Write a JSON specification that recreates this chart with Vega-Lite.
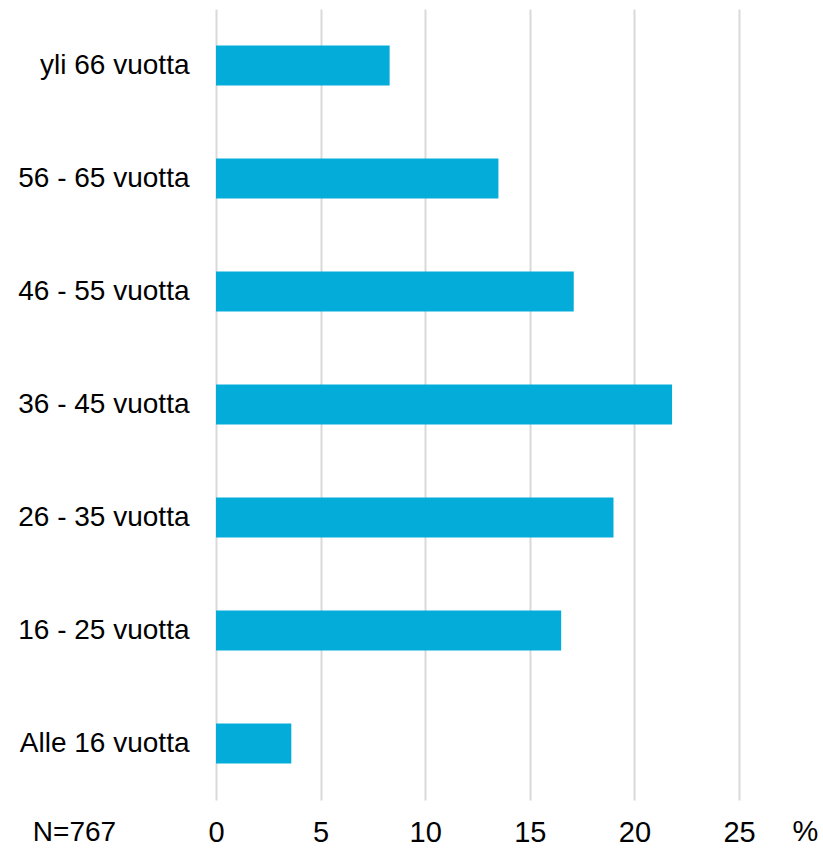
{
  "$schema": "https://vega.github.io/schema/vega-lite/v6.json",
  "width": 523,
  "height": 791,
  "autosize": {"type": "none"},
  "padding": {"left": 216, "top": 9, "right": 84, "bottom": 48},
  "background": "white",
  "data": {
    "values": [
      {"ika": "yli 66 vuotta", "osuus": 8.3},
      {"ika": "56 - 65 vuotta", "osuus": 13.5},
      {"ika": "46 - 55 vuotta", "osuus": 17.1},
      {"ika": "36 - 45 vuotta", "osuus": 21.8},
      {"ika": "26 - 35 vuotta", "osuus": 19.0},
      {"ika": "16 - 25 vuotta", "osuus": 16.5},
      {"ika": "Alle 16 vuotta", "osuus": 3.6}
    ]
  },
  "config": {
    "view": {"stroke": null},
    "font": "Liberation Sans"
  },
  "mark": {"type": "bar", "color": "#04ACDA"},
  "encoding": {
    "y": {
      "field": "ika",
      "type": "nominal",
      "sort": null,
      "scale": {"paddingInner": 0.646, "paddingOuter": 0.323},
      "axis": {
        "title": "N=767",
        "titleAngle": 0,
        "titleX": -142,
        "titleY": 831,
        "titleAlign": "center",
        "titleBaseline": "alphabetic",
        "titleFontSize": 28,
        "titleFontWeight": "normal",
        "titleColor": "#000000",
        "domain": false,
        "ticks": false,
        "labelPadding": 27,
        "labelFontSize": 28,
        "labelColor": "#000000",
        "grid": false
      }
    },
    "x": {
      "field": "osuus",
      "type": "quantitative",
      "scale": {"domain": [0, 25], "nice": false},
      "axis": {
        "title": "%",
        "titleX": 589,
        "titleY": 40,
        "titleAlign": "center",
        "titleBaseline": "alphabetic",
        "titleFontSize": 29,
        "titleFontWeight": "normal",
        "titleColor": "#000000",
        "values": [0, 5, 10, 15, 20, 25],
        "domain": false,
        "ticks": false,
        "labelFlush": false,
        "labelPadding": 18,
        "labelFontSize": 29,
        "labelColor": "#000000",
        "grid": true,
        "gridColor": "#d9d9d9",
        "gridWidth": 2
      }
    }
  }
}
